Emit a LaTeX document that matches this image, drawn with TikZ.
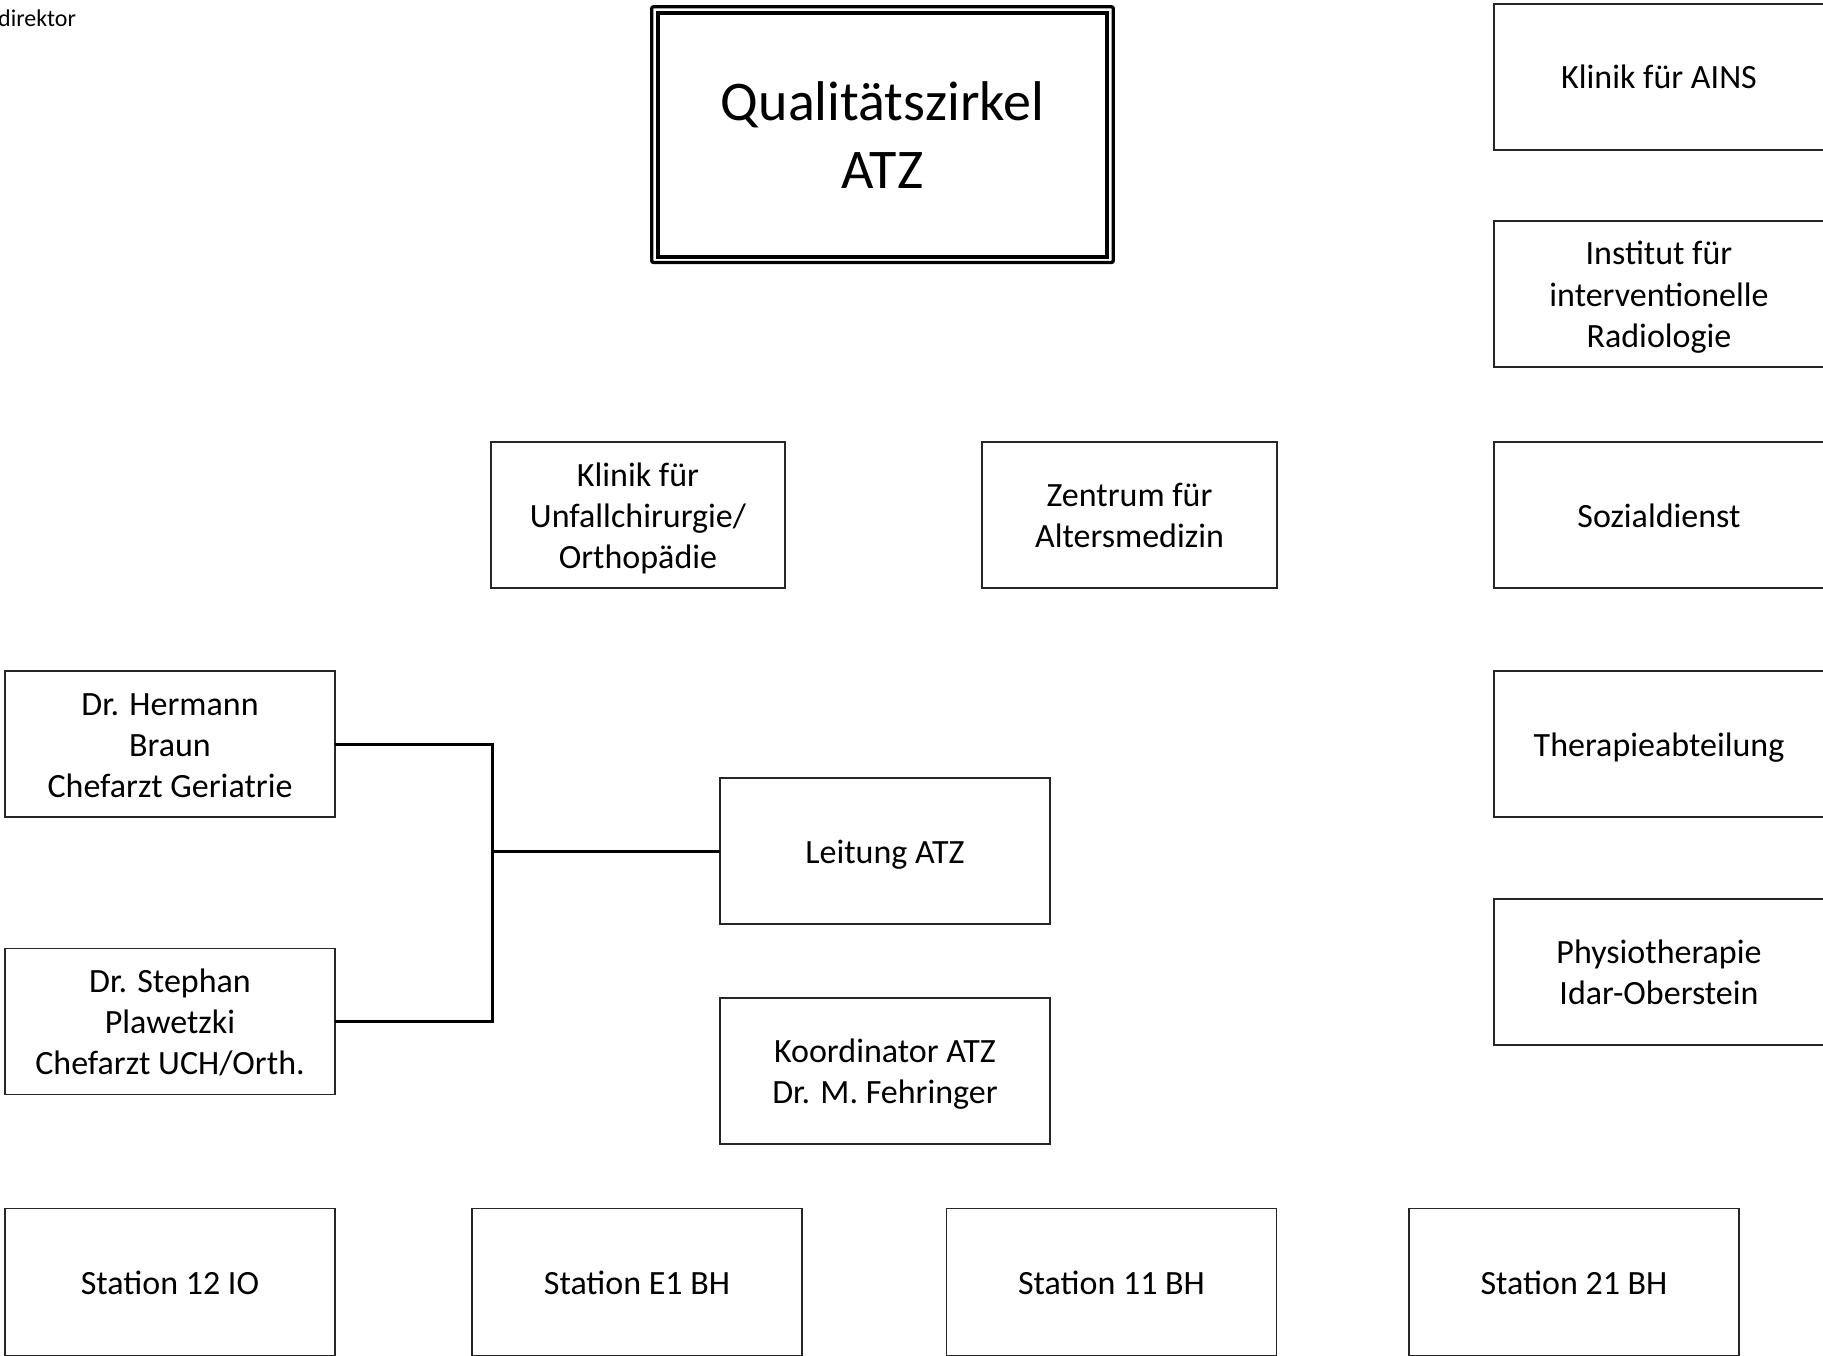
\documentclass[tikz,border=0pt]{standalone}
\usepackage{fontspec}
\setmainfont{Carlito}
\newcommand\mystrut{\rule[-6pt]{0pt}{36pt}}
\begin{document}
\begin{tikzpicture}[x=1pt,y=-1pt,
  box/.style={draw=black!85, line width=1.5pt, rectangle, inner sep=0pt, outer sep=0pt,
    minimum width=330pt, minimum height=146pt, align=center,
    font=\fontsize{34}{41}\selectfont},
  conn/.style={line width=3pt, black}]
\useasboundingbox (0,0) rectangle (1823,1356);
\clip (0,0) rectangle (1823,1356);
\fill[white] (0,0) rectangle (1823,1356);

\node[anchor=west, inner sep=0pt, font=\fontsize{24}{29}\selectfont] (dir) at (-2,18) {direktor};

% title
\draw[line width=3.3pt, rounded corners=2pt] (651.7,6.7) rectangle (1113.3,262.5);
\node[draw, line width=4pt, rectangle, inner sep=0pt, minimum width=449pt, minimum height=244pt,
  align=center, font=\fontsize{56}{68.5}\selectfont] (title) at (882.5,135) {Qualitätszirkel\\ATZ};

% right column
\node[box] (ains) at (1659,77) {\mystrut Klinik für AINS};
\node[box] (inst) at (1659,294) {\mystrut Institut für\\\mystrut interventionelle\\\mystrut Radiologie};
\node[box] (sozial) at (1659,515) {\mystrut Sozialdienst};
\node[box] (therapie) at (1659,744) {\mystrut Therapieabteilung};
\node[box] (physio) at (1659,972) {\mystrut Physiotherapie\\\mystrut Idar-Oberstein};

% middle row
\node[box, minimum width=294pt] (unfall) at (638,515) {\mystrut Klinik für\\\mystrut Unfallchirurgie/\\\mystrut Orthopädie};
\node[box, minimum width=295pt] (zentrum) at (1129.5,515) {\mystrut Zentrum für\\\mystrut Altersmedizin};

% left column
\node[box] (hermann) at (170,744) {\mystrut Dr. Hermann\\\mystrut Braun\\\mystrut Chefarzt Geriatrie};
\node[box] (stephan) at (170,1021.5) {\mystrut Dr. Stephan\\\mystrut Plawetzki\\\mystrut Chefarzt UCH/Orth.};

% centre
\node[box] (leitung) at (885,851) {\mystrut Leitung ATZ};
\node[box] (koord) at (885,1071) {\mystrut Koordinator ATZ\\\mystrut Dr. M. Fehringer};

% stations
\node[box, minimum height=147pt] (st12) at (170,1282) {\mystrut Station 12 IO};
\node[box, minimum height=147pt] (ste1) at (637,1282) {\mystrut Station E1 BH};
\node[box, minimum height=147pt] (st11) at (1111.5,1282) {\mystrut Station 11 BH};
\node[box, minimum height=147pt] (st21) at (1574,1282) {\mystrut Station 21 BH};

% connectors
\coordinate (j) at (492,851);
\draw[conn] (hermann.east) -| (j) |- (stephan.east);
\draw[conn] (j) -- (leitung.west);
\end{tikzpicture}
\end{document}
